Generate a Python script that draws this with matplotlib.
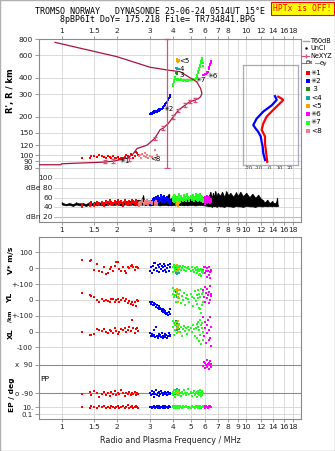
import numpy as np
import matplotlib.pyplot as plt
from matplotlib.ticker import NullLocator
from matplotlib.transforms import blended_transform_factory

# ---- frequency axis -------------------------------------------------------
F_LIM = (0.756, 19.8)
F_TOP_TICKS = [1, 1.5, 2, 3, 4, 5, 6, 7, 8, 10, 12, 14, 16, 18]
F_BOT_TICKS = [1, 1.5, 2, 3, 4, 5, 6, 7, 8, 9, 10, 12, 14, 16, 18]

# ---- height axis ----------------------------------------------------------
H_LIM = (78.3, 800)
H_TICKS = [80, 90, 100, 120, 150, 200, 300, 400, 600, 800]

# ---- electron density profile (plasma frequency vs real height) ------------
prof_f = [0.76, 0.99, 1.0, 1.67, 1.9, 2.26, 2.43, 2.56, 2.9, 3.2, 3.41, 3.55,
          3.78, 4.02, 4.28, 4.66, 4.95, 5.27, 5.49, 5.66, 5.75, 5.66, 5.39,
          4.98, 4.38, 3.86, 3.01, 1.99, 0.92]
prof_h = [84.5, 84.5, 86, 88.5, 90, 95, 102, 113, 120, 136, 158, 163,
          177, 199, 224, 246, 262, 269, 276, 286, 303, 331, 374,
          400, 448, 458, 485, 586, 757]
err_f = [1.72, 1.9, 2.32, 3.2, 3.55, 4.02, 4.28, 4.66, 4.95, 5.27]
err_h = [89.5, 90.5, 93, 136, 163, 199, 224, 246, 262, 269]
fc_marker = 3.73

# ---- tilt profiles ---------------------------------------------------------
tilt_hx = [89, 97, 107, 123, 140, 158, 177, 200, 226, 262, 270, 280, 286]
tilt_x = [-1.9, -2.5, -3.1, -4.1, -4.1, -7.4, -5.8, -2.5, 4.0, 12.3, 13.8, 11, 8.9]
tilt_hy = [92, 104, 117, 127, 140, 152, 164, 172, 193, 219, 245, 270, 289]
tilt_y = [-4.1, -5.8, -6.4, -7.4, -8.3, -10.7, -13.9, -15.6, -12.3, -5.8, 2.5, 7.4, 5.7]

# ---- echo traces: freq, height, amplitude, V*, YL, XL, PP, EP --------------
f1 = [1.28, 1.42, 1.45, 1.5, 1.55, 1.6, 1.65, 1.7, 1.74, 1.78, 1.82, 1.86, 1.9,
      1.94, 1.98, 2.02, 2.05, 2.1, 2.15, 2.2, 2.24, 2.28, 2.32, 2.36, 2.4, 2.44,
      2.48, 2.52, 2.56, 2.6]
h1 = [96, 95, 98, 99, 97, 100, 98, 97, 96, 98, 97, 96, 98, 96, 95, 97, 94, 96,
      95, 97, 100, 98, 95, 103, 100, 96, 98, 107, 104, 100]
a1 = [46, 48, 50, 47, 52, 49, 51, 48, 53, 50, 55, 52, 49, 54, 51, 56, 50, 53,
      48, 55, 52, 50, 54, 49, 56, 53, 51, 55, 50, 52]
v1 = [50, 48, 50, -10, 28, -15, -25, 5, -35, -30, -5, 10, -20, 15, 40, 38, -5,
      -15, 5, -20, -30, 10, 0, 15, 20, 5, -10, 10, 5, 0]
yl1 = [46, 30, 25, 20, 0, -10, 5, -8, 0, -5, -12, 3, 8, -10, -2, 5, -15, 0, 10,
       -5, 3, -20, -8, -25, -15, -35, -10, -40, 0, -5]
xl1 = [0, -20, -22, -18, 15, 10, 5, 18, 0, -10, 12, 3, -8, 20, 5, -15, -5, 15,
       8, 25, -5, 12, 30, 5, 75, 20, -10, 15, 25, 5]
pp1 = [-95, -80, -100, -72, -85, -110, -92, -78, -98, -88, -105, -82, -93, -75,
       -100, -87, -96, -70, -90, -104, -84, -95, -78, -101, -88, -92, -80, -97,
       -86, -93]
ep1 = [14, 7, 25, 11, 6, 18, 9, 30, 8, 13, 6, 20, 10, 7, 16, 28, 8, 10, 22, 7,
       12, 35, 6, 10, 18, 8, 11, 26, 9, 7]

f2 = [3.02, 3.05, 3.08, 3.12, 3.15, 3.18, 3.22, 3.25, 3.28, 3.32, 3.35, 3.38,
      3.42, 3.45, 3.48, 3.52, 3.55, 3.58, 3.62, 3.65, 3.68, 3.72, 3.75, 3.8,
      3.85, 3.88]
h2 = [208, 214, 210, 217, 213, 220, 216, 222, 219, 225, 221, 228, 224, 231, 228,
      236, 232, 240, 246, 250, 256, 262, 268, 278, 286, 295]
a2 = [50, 54, 52, 58, 55, 60, 53, 62, 57, 64, 55, 60, 58, 65, 56, 62, 59, 63,
      55, 60, 58, 62, 54, 57, 52, 55]
v2 = [-20, 5, -30, 15, 30, -10, 35, 0, -15, 20, -25, 10, 25, -5, 15, -20, 5, 28,
      -10, 15, -25, 0, 20, -15, 10, 25]
yl2 = [-15, -25, -10, -30, -20, -35, -28, -45, -30, -50, -40, -60, -48, -55,
       -70, -60, -75, -65, -85, -70, -90, -80, -95, -75, -88, -60]
xl2 = [-10, -25, -15, -30, 10, -20, -35, 30, -25, -40, -15, -30, -20, -35, -10,
       -25, -40, -30, -15, -35, -20, -42, -28, -10, -30, -20]
pp2 = [-85, -100, -75, -95, -110, -80, -92, -70, -98, -88, -105, -82, -94, -76,
       -90, -102, -84, -96, -78, -91, -86, -99, -80, -93, -88, -95]
ep2 = [10, 16, 7, 12, 24, 9, 6, 14, 20, 8, 11, 30, 7, 13, 9, 18, 6, 10, 22, 8,
       12, 15, 7, 26, 9, 11]

f3 = [4.15, 4.18, 4.2, 4.23]
h3 = [436, 440, 432, 438]
a3 = [50, 53, 51, 52]
v3 = [-5, 0, -10, 5]
yl3 = [50, 30, 60, 40]
xl3 = [65, 40, 55, 30]
pp3 = [-92, -88, -95, -85]
ep3 = [11, 18, 8, 14]

f4 = [4.18, 4.2, 4.22, 4.25, 4.28, 4.3]
h4 = [480, 472, 476, 468, 474, 470]
a4 = [52, 55, 50, 53, 51, 54]
v4 = [-30, -25, -35, -20, -28, -32]
yl4 = [30, 45, 20, 40, 10, 35]
xl4 = [40, 10, 30, -5, 25, 15]
pp4 = [-70, -60, -75, -65, -80, -70]
ep4 = [10, 16, 8, 22, 12, 9]

f5 = [4.20, 4.22, 4.24, 4.25, 4.27, 4.28, 4.30, 4.32]
h5 = [560, 552, 545, 538, 532, 548, 556, 540]
a5 = [55, 50, 60, 48, 57, 52, 58, 54]
v5 = [10, -15, 20, 0, -20, 15, -5, 5]
yl5 = [70, 40, 55, 20, 60, -10, 35, 10]
xl5 = [60, 20, 45, -5, 70, 30, 0, 50]
pp5 = [-85, -95, -75, -100, -88, -92, -80, -98]
ep5 = [10, 20, 8, 13, 28, 9, 7, 15]

f6 = [5.85, 5.9, 5.95, 6.0, 6.05, 6.1, 6.15, 6.2, 6.25, 6.3, 6.35, 6.4, 6.45,
      6.48]
h6 = [420, 423, 427, 430, 433, 436, 442, 448, 470, 490, 505, 515, 525, 540]
a6 = [55, 60, 52, 62, 58, 63, 54, 60, 56, 61, 53, 57, 55, 58]
v6 = [-10, 5, -30, 10, -20, -55, 0, -15, -40, 5, -25, -60, -10, -20]
yl6 = [60, 20, 80, -10, 45, 10, 70, 30, -20, 50, 0, 85, 25, 40]
xl6 = [90, -30, 60, 20, -70, 40, -10, 75, -50, 10, 95, -40, 30, -90]
pp6 = [85, 110, 70, 100, 90, 120, 75, 95, 65, 105, 88, 115, 80, 98]
ep6 = [10, 18, 8, 13, 25, 9, 14, 7, 20, 11, 30, 9, 12, 16]

f7 = [4.00, 4.03, 4.05, 4.08, 4.10, 4.13, 4.16, 4.20, 4.25, 4.30, 4.36, 4.42,
      4.48, 4.54, 4.60, 4.66, 4.72, 4.78, 4.85, 4.92, 4.99, 5.06, 5.13, 5.20,
      5.27, 5.33, 5.38, 5.42, 5.46, 5.50, 5.54, 5.58, 5.61, 5.64, 5.67, 5.70,
      5.73, 5.76, 5.80, 5.85]
h7 = [345, 358, 370, 384, 396, 408, 392, 386, 392, 388, 384, 390, 386, 382, 388,
      384, 380, 386, 382, 384, 388, 386, 390, 392, 396, 402, 410, 422, 436, 450,
      462, 476, 490, 506, 522, 538, 552, 568, 520, 498]
a7 = [58, 62, 55, 66, 60, 64, 57, 62, 59, 67, 56, 63, 60, 58, 65, 61, 57, 68,
      62, 59, 64, 60, 66, 58, 62, 68, 61, 65, 59, 66, 62, 60, 67, 63, 58, 64, 60,
      62, 57, 55]
v7 = [10, -25, 5, 20, -5, -15, 15, 0, -10, 5, 12, -8, 0, 15, -12, 5, -20, 0, 10,
      -5, -15, 8, -10, -25, 0, -12, 5, -30, -15, -5, -40, -20, -10, -35, -5,
      -50, -25, -15, -30, -20]
yl7 = [75, 40, 55, 20, 65, 30, -10, 50, 10, 35, 60, -20, 25, 0, 45, -30, 15, 30,
       5, -15, 40, 20, -40, 10, 55, -5, 30, -25, 65, 15, -50, 40, -60, 20, 70,
       -80, 35, -35, 50, -10]
xl7 = [70, 30, 55, -20, 45, 10, 60, -10, 25, 40, 0, 30, -25, 15, 35, 5, 20, -15,
       30, 10, 25, -5, 40, 15, -30, 20, 50, -40, 30, 60, -60, 10, 75, -20, 45,
       -80, 20, 55, -50, 0]
pp7 = [-80, -100, -70, -95, -85, -110, -75, -92, -65, -98, -88, -105, -78, -94,
       -70, -90, -102, -84, -60, -96, -80, -108, -86, -74, -99, -90, -115, -82,
       -95, -72, -88, -100, -66, -92, -84, -106, -76, -98, -90, -86]
ep7 = [10, 22, 7, 14, 30, 9, 6, 17, 11, 8, 25, 12, 7, 19, 10, 13, 28, 9, 6, 15,
       8, 21, 10, 12, 7, 26, 9, 14, 6, 18, 11, 8, 24, 10, 13, 7, 16, 9, 20, 11]

f8 = [2.62, 2.66, 2.7, 2.74, 2.78, 2.82, 2.86, 2.9, 2.95, 3.0, 3.1, 3.2, 3.25,
      3.3]
h8 = [98, 100, 96, 102, 99, 104, 97, 101, 95, 99, 97, 110, 96, 100]
a8 = [48, 52, 50, 55, 49, 53, 51, 56, 50, 54, 52, 50, 53, 49]

# ---- unclassified echo amplitudes (upper / lower envelope) -----------------
unc_f = [1.0, 1.05, 1.1, 1.15, 1.2, 1.25, 1.3, 1.35, 1.4, 1.45, 1.5, 1.55, 1.6,
         1.7, 1.8, 1.9, 2.0, 2.1, 2.2, 2.3, 2.4, 2.5, 2.6, 2.7, 2.76, 2.8, 2.9,
         3.0, 3.2, 3.4, 3.6, 3.8, 3.85, 3.9, 4.05, 4.1, 4.4, 4.6, 4.65, 4.8,
         5.0, 5.3, 5.6, 5.9, 6.2, 6.3, 6.4, 6.5, 6.6, 6.7, 6.8, 6.9, 7.0, 7.2,
         7.4, 7.6, 7.8, 8.0, 8.2, 8.5, 8.8, 9.0, 9.3, 9.6, 10.0, 10.4, 10.8,
         11.2, 11.6, 12.0, 12.3, 12.6, 13.0, 13.4, 13.8, 14.2, 14.5, 14.7, 14.8]
unc_top = [50, 47, 49, 47, 50, 48, 49, 47, 50, 48, 51, 48, 50, 49, 52, 50, 53,
           51, 54, 52, 55, 53, 56, 54, 65, 52, 55, 52, 55, 53, 56, 68, 55, 58,
           68, 62, 58, 60, 55, 57, 58, 56, 60, 57, 62, 65, 72, 60, 70, 62, 74,
           63, 70, 64, 72, 62, 73, 65, 70, 62, 71, 64, 72, 63, 70, 61, 68, 60,
           66, 58, 55, 50, 56, 49, 53, 48, 50, 60, 45]
unc_low = [46, 44, 45, 43, 46, 44, 45, 43, 45, 44, 46, 44, 45, 44, 46, 45, 46,
           44, 46, 45, 46, 44, 46, 45, 46, 44, 45, 44, 45, 44, 45, 44, 45, 44,
           45, 44, 45, 44, 45, 44, 45, 44, 45, 44, 43, 42, 43, 41, 43, 42, 43,
           41, 43, 42, 42, 41, 43, 42, 42, 41, 43, 42, 42, 41, 43, 42, 42, 41,
           43, 42, 42, 43, 42, 43, 42, 43, 42, 43, 43]

MAROON = '#a8143c'
PINK = '#d8507a'
traces = [
    ('✳1', '#ff0000', f1, h1, a1, v1, yl1, xl1, pp1, ep1),
    ('✳2', '#0000ff', f2, h2, a2, v2, yl2, xl2, pp2, ep2),
    (' 3', '#1e8c1e', f3, h3, a3, v3, yl3, xl3, pp3, ep3),
    ('<4', '#10a8a8', f4, h4, a4, v4, yl4, xl4, pp4, ep4),
    ('<5', '#ffa000', f5, h5, a5, v5, yl5, xl5, pp5, ep5),
    ('✳6', '#ff00ff', f6, h6, a6, v6, yl6, xl6, pp6, ep6),
    ('✳7', '#20ff20', f7, h7, a7, v7, yl7, xl7, pp7, ep7),
    ('<8', '#f08080', f8, h8, a8, None, None, None, None, None),
]
trace_tags = [('✳1', 2.07, 91), ('✳2', 3.55, 230), ('3', 4.36, 425),
              ('4', 4.36, 472), ('<5', 4.33, 540), ('✳6', 6.15, 416),
              ('✳7', 5.3, 384), ('<8', 3.02, 94)]

# composite rows of the lower panel (axis units)
VS_ROW, YL_ROW, XL_ROW = 400, 200, 0
PP_ROW = -300
EP_BASE, EP_SPAN = -499, 22

GRID = '#d4d4d4'
SPINE = '#8a8a8a'
TXT = '#202020'
FS = 5.4

W, H = 335, 451
fig = plt.figure(figsize=(W / 100, H / 100), dpi=100)
fig.patch.set_facecolor('white')


def px_axes(left, top, right, bottom):
    return fig.add_axes([left / W, 1 - bottom / H,
                         (right - left) / W, (bottom - top) / H])


def freq_axis(ax, ticks, where):
    ax.set_xscale('log')
    ax.set_xlim(*F_LIM)
    ax.xaxis.set_minor_locator(NullLocator())
    ax.set_xticks(ticks)
    ax.set_xticklabels([f'{t:g}' for t in ticks])
    for f in F_BOT_TICKS:
        ax.axvline(f, color=GRID, lw=0.6, zorder=0)
    if where == 'top':
        ax.xaxis.tick_top()
    ax.tick_params(axis='x', length=2, width=0.6, color=SPINE, labelsize=FS,
                   labelcolor=TXT, pad=1.5)
    for s in ax.spines.values():
        s.set_color(SPINE)
        s.set_linewidth(0.8)


def y_axis(ax, pos, labels, size=FS):
    ax.yaxis.set_minor_locator(NullLocator())
    ax.set_yticks(pos)
    ax.set_yticklabels(labels)
    ax.tick_params(axis='y', length=3, width=0.6, color=SPINE, labelsize=size,
                   labelcolor=TXT, pad=1.5)


# ---- heading ---------------------------------------------------------------
fig.text(150 / W, 1 - 12 / H, 'TROMSO NORWAY   DYNASONDE 25-06-24 0514UT 15°E',
         family='DejaVu Sans Mono', fontsize=6.0, ha='center', va='center')
fig.text(157 / W, 1 - 20 / H, '8pBP6It DoY= 175.218 File= TR734841.BPG',
         family='DejaVu Sans Mono', fontsize=6.0, ha='center', va='center')
fig.text(302.5 / W, 1 - 8.5 / H, 'HPTx is OFF!', family='DejaVu Sans Mono',
         fontsize=5.8, color='#ff0000', ha='center', va='center',
         bbox=dict(boxstyle='square,pad=0.25', fc='#ffff00', ec='#ff0000', lw=0.8))

# ---- range / height panel ----------------------------------------------------
ax = px_axes(39.3, 39.3, 301, 169)
freq_axis(ax, F_TOP_TICKS, 'top')
ax.set_yscale('log')
ax.set_ylim(*H_LIM)
y_axis(ax, H_TICKS, [str(t) for t in H_TICKS])
for h in H_TICKS:
    ax.axhline(h, color=GRID, lw=0.6, zorder=0)
ax.set_ylabel("R', R / km", fontsize=6, fontweight='bold')
ax.yaxis.set_label_coords(-24.0 / 261.7, 0.6)

for name, col, f, h, *_ in traces:
    ax.scatter(f, h, s=3.0, marker='s', color=col, linewidths=0, zorder=3)

ax.plot(prof_f, prof_h, color=MAROON, lw=0.9, zorder=4)
ax.errorbar(err_f, err_h, yerr=[np.array(err_h) * 0.03, np.array(err_h) * 0.03],
            fmt='none', ecolor=PINK, elinewidth=0.7, capsize=1.2, zorder=5)
ax.plot([fc_marker, fc_marker], [H_LIM[0] * 1.01, H_LIM[1] * 1.01], color=PINK,
        lw=0.9, clip_on=False, zorder=5)
ax.plot([fc_marker] * 2, [H_LIM[0] * 1.01, H_LIM[1] * 1.01], ls='none',
        marker='_', ms=4, mew=0.9, color=PINK, clip_on=False, zorder=5)

for tag, ft, ht in trace_tags:
    ax.text(ft, ht, tag, fontsize=5.0, color='black', va='center', ha='left',
            zorder=6)

# tilt inset
axt = px_axes(242.7, 65, 297.7, 165)
axt.patch.set_alpha(0)
axt.set_yscale('log')
axt.set_ylim(84, 505)
axt.set_xlim(-26, 28)
axt.yaxis.set_major_locator(NullLocator())
axt.yaxis.set_minor_locator(NullLocator())
axt.set_xticks([-20, -10, 0, 10, 20])
axt.set_xticklabels(['-20', '-10', '0', '10', '20'])
axt.tick_params(axis='x', length=0, labelsize=3.6, labelcolor=TXT, pad=0.8)
axt.set_xlabel('Tilt / deg', fontsize=4.4, labelpad=0.5, color=TXT)
for s in axt.spines.values():
    s.set_color('#a8a8b8')
    s.set_linewidth(0.9)
axt.plot(tilt_x, tilt_hx, color='#ff0000', lw=1.6)
axt.plot(tilt_y, tilt_hy, color='#0000ff', lw=1.6)

# ---- amplitude panel --------------------------------------------------------
axd = px_axes(39.3, 169, 301, 221.7)
freq_axis(axd, F_BOT_TICKS, 'bottom')
axd.set_ylim(11, 118)
axd.yaxis.set_major_locator(NullLocator())
axd.yaxis.set_minor_locator(NullLocator())
axd.spines['top'].set_visible(False)
lab_tr = blended_transform_factory(axd.transAxes, axd.transData)
x0 = 13.5 / 261.7
for lvl, lab in [(100, '100'), (80, 'dBe 80'), (60, '60'), (40, '40'),
                 (20, 'dBn 20')]:
    axd.text(x0, lvl, lab, transform=lab_tr, fontsize=FS, color=TXT,
             ha='right', va='center')
    axd.plot([x0 + 0.005, 1], [lvl, lvl], transform=lab_tr,
             color='#b8b8d8' if lvl == 20 else GRID, lw=0.8 if lvl == 20 else 0.6,
             zorder=0)
axd.fill_between(unc_f, unc_low, unc_top, color='black', lw=0.4, zorder=2)
axd.vlines(unc_f, unc_low, unc_top, color='black', lw=0.9, zorder=2)
for name, col, f, h, a, *_ in traces:
    a = np.asarray(a)
    axd.vlines(f, a - 7, a, color=col, lw=1.3, zorder=3)
    axd.scatter(f, a, s=3.0, marker='s', color=col, linewidths=0, zorder=3)

# ---- drift velocity / location / polarization panel --------------------------
axb = px_axes(39.3, 236.7, 301, 419.3)
freq_axis(axb, F_BOT_TICKS, 'bottom')
axb.set_ylim(-553, 599)
row_pos = [VS_ROW + 100, VS_ROW, (VS_ROW + YL_ROW) / 2, YL_ROW,
           (YL_ROW + XL_ROW) / 2, XL_ROW, XL_ROW - 100,
           PP_ROW + 90, PP_ROW - 90, EP_BASE + EP_SPAN, EP_BASE - EP_SPAN]
row_lab = ['100', '0', '+-100', '0', '+-100', '0', '-100', 'x  90', 'o -90',
           '10.', '0.1']
y_axis(axb, row_pos, row_lab, size=5.0)
for p in row_pos:
    dark = p in (PP_ROW + 90, PP_ROW - 90)
    axb.axhline(p, color='#8c8c8c' if dark else GRID, lw=0.8 if dark else 0.6,
                zorder=0)
axb.set_xlabel('Radio and Plasma Frequency / MHz', fontsize=5.8, color=TXT,
               labelpad=4)

for name, col, f, h, a, v, yl, xl, pp, ep in traces:
    if v is None:
        continue
    f = np.asarray(f)
    rows = [VS_ROW + np.asarray(v), YL_ROW + np.asarray(yl),
            XL_ROW + np.asarray(xl), PP_ROW + np.asarray(pp),
            EP_BASE + EP_SPAN * np.log10(ep)]
    for r in rows:
        axb.scatter(f, r, s=3.0, marker='s', color=col, linewidths=0, zorder=3)

# row captions
fig.text(11 / W, 1 - 260 / H, 'V* m/s', rotation=90, fontsize=5.4,
         fontweight='bold', ha='center', va='center')
fig.text(10.5 / W, 1 - 298 / H, 'YL', rotation=90, fontsize=5.4,
         fontweight='bold', ha='center', va='center')
fig.text(9.5 / W, 1 - 316 / H, '/km', rotation=90, fontsize=4.0,
         fontweight='bold', ha='center', va='center')
fig.text(10.5 / W, 1 - 334 / H, 'XL', rotation=90, fontsize=5.4,
         fontweight='bold', ha='center', va='center')
fig.text(12 / W, 1 - 395 / H, 'EP / deg', rotation=90, fontsize=5.4,
         fontweight='bold', ha='center', va='center')
fig.text(45 / W, 1 - 379 / H, 'PP', fontsize=FS, ha='center', va='center')


# ---- key -------------------------------------------------------------------
def key_y(py):
    return 1 - py / H


KFS = 4.7
fig.add_artist(plt.Line2D([303 / W, 309 / W], [key_y(41)] * 2, color='#a0a0a0',
                          lw=1.0))
fig.text(310 / W, key_y(41), 'T60dB', fontsize=KFS, va='center')
fig.add_artist(plt.Line2D([306 / W], [key_y(48)], marker='.', ms=1.5,
                          color='black'))
fig.text(310 / W, key_y(48), 'UnCl', fontsize=KFS, va='center')
fig.add_artist(plt.Line2D([302 / W, 309 / W], [key_y(55.5)] * 2, color=PINK,
                          lw=0.9))
fig.add_artist(plt.Line2D([305.5 / W], [key_y(55.5)], marker='|', ms=3,
                          color=PINK))
fig.text(310 / W, key_y(55.5), 'NeXYZ', fontsize=KFS, va='center')
fig.add_artist(plt.Line2D([302 / W, 306 / W], [key_y(63)] * 2, color=PINK,
                          lw=0.8))
fig.text(306 / W, key_y(63), 'Θx', fontsize=4.0, va='center')
fig.add_artist(plt.Line2D([315 / W, 320 / W], [key_y(63)] * 2,
                          color='#9090e0', lw=0.8))
fig.text(320 / W, key_y(63), 'Θy', fontsize=4.0, va='center')
for k, (name, col, *_) in enumerate(traces):
    yk = key_y(72.7 + 8.3 * k)
    fig.add_artist(plt.Line2D([307.5 / W], [yk], marker='s', ms=2.4,
                              color=col, mew=0))
    fig.text(311 / W, yk, name, fontsize=5.2, va='center')

fig.add_artist(plt.Rectangle((0, 0), 1, 1, transform=fig.transFigure,
                             fill=False, ec='#b0b0b0', lw=1.0))

fig.savefig('out.png', dpi=100)
